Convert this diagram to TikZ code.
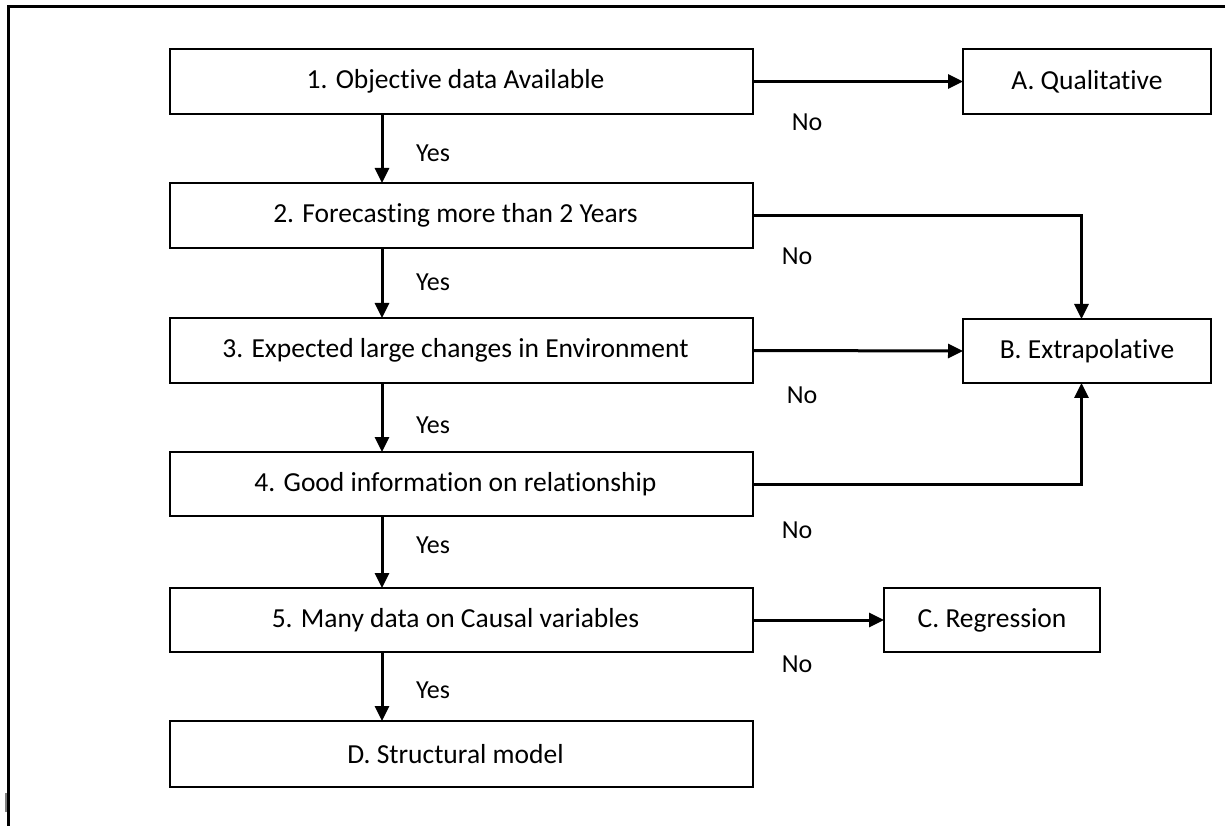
\documentclass[tikz,border=0pt]{standalone}
\usepackage{fontspec}
\setmainfont{Carlito}[Ligatures=NoCommon]
\usetikzlibrary{arrows.meta}
\tikzset{
  box/.style={draw=black, line width=2pt, rectangle, outer sep=0pt, inner sep=0pt, font=\fontsize{27.5}{32}\selectfont},
  mainbox/.style={box, minimum width=583pt, execute at end node={\kern12pt}},
  arr/.style={draw=black, line width=3pt, -{Triangle[length=15pt,width=14pt]}},
  lbl/.style={font=\fontsize{26}{30}\selectfont, inner sep=0pt},
  frame/.style={draw=black, line width=3pt}
}
\begin{document}
\begin{tikzpicture}[x=1pt,y=-1pt]
\useasboundingbox (0,0) rectangle (1227,826);
% frame
\coordinate (ftl) at (8,7);
\coordinate (ftr) at (1225,7);
\coordinate (fbl) at (8,826);
\draw[frame] (ftr) -- (ftl) -- (fbl);
\coordinate (tk1) at (5.5,793);
\coordinate (tk2) at (5.5,812);
\draw[gray, line width=2pt] (tk1) -- (tk2);
% boxes
\node[mainbox, minimum height=65pt] (b1) at (461.5,81.5) {1. Objective data Available};
\node[mainbox, minimum height=65pt] (b2) at (461.5,215.5) {2. Forecasting more than 2 Years};
\node[mainbox, minimum height=65pt] (b3) at (461.5,350.5) {3. Expected large changes in Environment};
\node[mainbox, minimum height=64pt] (b4) at (461.5,484) {4. Good information on relationship};
\node[mainbox, minimum height=64pt] (b5) at (461.5,620) {5. Many data on Causal variables};
\node[mainbox, minimum height=66pt] (bD) at (461.5,754) {D. Structural model};
\node[box, minimum width=248pt, minimum height=65pt] (bA) at (1087,81.5) {A. Qualitative};
\node[box, minimum width=248pt, minimum height=64pt] (bB) at (1087,351) {B. Extrapolative};
\node[box, minimum width=216pt, minimum height=64pt] (bC) at (992,620) {C. Regression};
% columns
\coordinate (ax) at (382,0);
\coordinate (bx) at (1081.5,0);
% vertical yes arrows
\draw[arr] (b1.south -| ax) -- (b2.north -| ax);
\draw[arr] (b2.south -| ax) -- (b3.north -| ax);
\draw[arr] (b3.south -| ax) -- (b4.north -| ax);
\draw[arr] (b4.south -| ax) -- (b5.north -| ax);
\draw[arr] (b5.south -| ax) -- (bD.north -| ax);
% no arrows
\draw[arr] (b1.east) -- (bA.west);
\draw[arr] (b2.east) -| (bB.north -| bx);
\draw[arr] (b3.east) -- (bB.west);
\draw[arr] (b4.east) -| (bB.south -| bx);
\draw[arr] (b5.east) -- (bC.west);
% labels
\node[lbl] (y1) at (433,153) {Yes};
\node[lbl] (y2) at (433,282) {Yes};
\node[lbl] (y3) at (433,425) {Yes};
\node[lbl] (y4) at (433,545) {Yes};
\node[lbl] (y5) at (433,690) {Yes};
\node[lbl] (n1) at (807,122) {No};
\node[lbl] (n2) at (797,256) {No};
\node[lbl] (n3) at (802,395) {No};
\node[lbl] (n4) at (797,530) {No};
\node[lbl] (n5) at (797,664) {No};
\end{tikzpicture}
\end{document}
